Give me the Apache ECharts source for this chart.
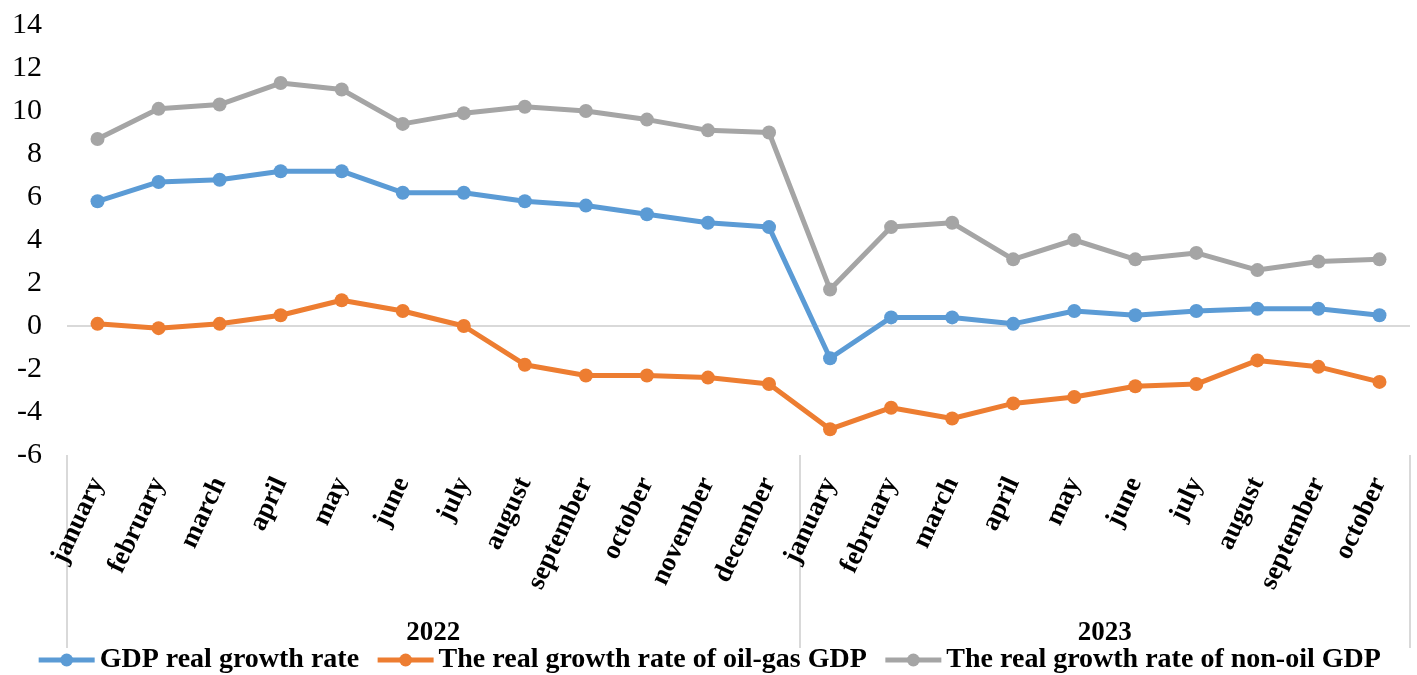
<!DOCTYPE html>
<html>
<head>
<meta charset="utf-8">
<script src="https://cdn.jsdelivr.net/npm/echarts@6/dist/echarts.min.js"></script>
<style>
  html, body { margin: 0; padding: 0; background: #fff; }
  #chart { width: 1417px; height: 675px; }
</style>
</head>
<body>
<div id="chart"></div>
<script>
// Monthly real growth rates (%), January 2022 – October 2023
const months2022 = ['january', 'february', 'march', 'april', 'may', 'june', 'july', 'august', 'september', 'october', 'november', 'december'];
const months2023 = ['january', 'february', 'march', 'april', 'may', 'june', 'july', 'august', 'september', 'october'];
const years = ['2022', '2023'];

const gdpGrowth = [5.8, 6.7, 6.8, 7.2, 7.2, 6.2, 6.2, 5.8, 5.6, 5.2, 4.8, 4.6,
                   -1.5, 0.4, 0.4, 0.1, 0.7, 0.5, 0.7, 0.8, 0.8, 0.5];
const oilGasGrowth = [0.1, -0.1, 0.1, 0.5, 1.2, 0.7, 0.0, -1.8, -2.3, -2.3, -2.4, -2.7,
                      -4.8, -3.8, -4.3, -3.6, -3.3, -2.8, -2.7, -1.6, -1.9, -2.6];
const nonOilGrowth = [8.7, 10.1, 10.3, 11.3, 11.0, 9.4, 9.9, 10.2, 10.0, 9.6, 9.1, 9.0,
                      1.7, 4.6, 4.8, 3.1, 4.0, 3.1, 3.4, 2.6, 3.0, 3.1];

const seriesNames = ['GDP real growth rate', 'The real growth rate of oil-gas GDP', 'The real growth rate of non-oil GDP'];
const seriesColors = ['#5B9BD5', '#ED7D31', '#A5A5A5'];

const categories = months2022.concat(months2023);
const yearBounds = [0, months2022.length, categories.length];
const yearCenters = [months2022.length / 2, months2022.length + months2023.length / 2];

const yMin = -6, yMax = 14, yStep = 2;
// only the zero level gets a visible line
const splitColors = [];
for (let v = yMin; v <= yMax; v += yStep) splitColors.push(v === 0 ? '#d9d9d9' : 'rgba(0,0,0,0)');

const FONT = '"Liberation Serif", "Times New Roman", serif';

const chart = echarts.init(document.getElementById('chart'));
const makeLine = (name, data, color) => ({
  name, type: 'line', data,
  xAxisIndex: 0,
  symbol: 'circle', symbolSize: 14,
  lineStyle: { width: 5, color },
  itemStyle: { color },
  emphasis: { disabled: true }
});

chart.setOption({
  animation: false,
  grid: { left: 67, right: 7, top: 25, bottom: 220, containLabel: false },
  legend: {
    bottom: -4, left: 'center',
    itemWidth: 56, itemHeight: 16, itemGap: 16,
    lineStyle: { width: 5 },
    textStyle: { fontFamily: FONT, fontSize: 28, fontWeight: 'bold', color: '#000' },
    data: seriesNames
  },
  xAxis: [
    {
      type: 'category', data: categories, boundaryGap: true,
      axisLine: { show: false }, axisTick: { show: false },
      axisLabel: {
        interval: 0, rotate: 65, margin: 24,
        fontFamily: FONT, fontSize: 27, fontWeight: 'bold', color: '#000'
      }
    },
    {
      type: 'value', min: 0, max: categories.length, position: 'bottom',
      axisLine: { show: false }, splitLine: { show: false },
      axisTick: { show: true, customValues: yearBounds, length: 193, lineStyle: { color: '#d9d9d9', width: 2 } },
      axisLabel: {
        customValues: yearCenters, margin: 165,
        formatter: v => years[yearCenters.indexOf(v)] || '',
        fontFamily: FONT, fontSize: 27, fontWeight: 'bold', color: '#000'
      }
    }
  ],
  yAxis: {
    type: 'value', min: yMin, max: yMax, interval: yStep,
    axisLine: { show: false }, axisTick: { show: false },
    splitLine: { show: true, lineStyle: { color: splitColors, width: 2 } },
    axisLabel: { margin: 25, fontFamily: FONT, fontSize: 30, color: '#000' }
  },
  series: [
    makeLine(seriesNames[0], gdpGrowth, seriesColors[0]),
    makeLine(seriesNames[1], oilGasGrowth, seriesColors[1]),
    makeLine(seriesNames[2], nonOilGrowth, seriesColors[2])
  ]
});
</script>
</body>
</html>
